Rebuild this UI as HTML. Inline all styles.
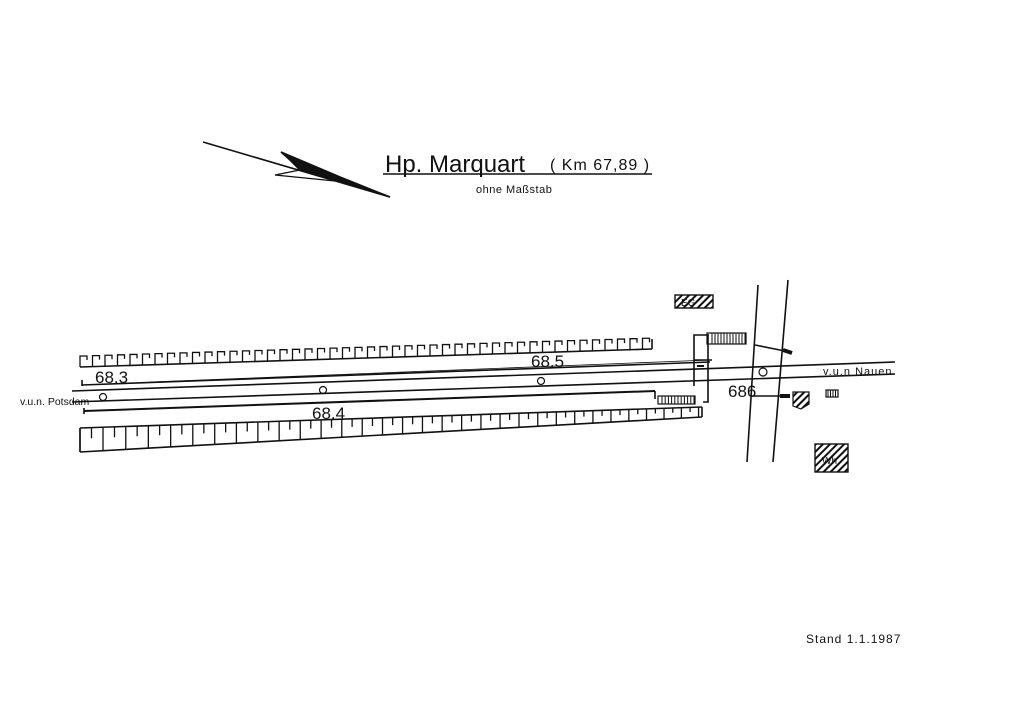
<!DOCTYPE html>
<html><head><meta charset="utf-8"><style>
html,body{margin:0;padding:0;background:#fff;}
svg{display:block}
text{font-family:"Liberation Sans",sans-serif;fill:#111}
</style></head><body>
<svg id="s" width="1024" height="724" viewBox="0 0 1024 724" xmlns="http://www.w3.org/2000/svg">
<defs>
<pattern id="h" width="5" height="5" patternUnits="userSpaceOnUse" patternTransform="rotate(45)">
<rect width="5" height="5" fill="#fff"/><rect width="2" height="5" fill="#111"/></pattern>
</defs>
<g stroke="#111" fill="none" stroke-width="1.6">
<line x1="203" y1="142" x2="390" y2="197"/>
<polygon points="281,152 340,177 390,197 300,170 290,160" fill="#111"/>
<polyline points="300,170 275,175 345,182" stroke-width="1.2"/>
<line x1="383" y1="174" x2="652" y2="174"/>

<line x1="80" y1="367" x2="652" y2="349"/>
<line x1="652" y1="339" x2="652" y2="349"/>
<line x1="82" y1="385" x2="710" y2="362"/>
<line x1="82" y1="380" x2="82" y2="386"/>
<line x1="150" y1="382" x2="710" y2="360" stroke-width="0.8"/>
<line x1="72" y1="391" x2="895" y2="362"/>
<line x1="72" y1="402" x2="895" y2="374"/>
<line x1="84" y1="411" x2="655" y2="391" stroke-width="2"/>
<line x1="84" y1="408" x2="84" y2="414"/>
<line x1="655" y1="391" x2="655" y2="399"/>
<line x1="80" y1="428" x2="702" y2="407"/>
<line x1="80" y1="452" x2="702" y2="417"/>
<line x1="702" y1="407" x2="702" y2="417"/>
<line x1="80" y1="428" x2="80" y2="452"/>

<polyline points="694,386 694,335 707,335"/>
<polyline points="708,334 708,402 703,402"/>
<line x1="694" y1="360" x2="712" y2="360"/>
<line x1="697" y1="366" x2="704" y2="366" stroke-width="2"/>
<rect x="707" y="333" width="39" height="11" stroke-width="1.2"/>
<rect x="658" y="396" width="37" height="8" stroke-width="1.2"/>

<line x1="758" y1="285" x2="747" y2="462"/>
<line x1="788" y1="280" x2="773" y2="462"/>
<line x1="755" y1="345" x2="785" y2="351"/>
<line x1="783" y1="350" x2="792" y2="353" stroke-width="4"/>
<line x1="752" y1="396" x2="780" y2="396"/>
<line x1="780" y1="396" x2="790" y2="396" stroke-width="4"/>
<circle cx="763" cy="372" r="4" stroke-width="1.2"/>

<circle cx="103" cy="397" r="3.5" stroke-width="1.2"/>
<circle cx="323" cy="390" r="3.5" stroke-width="1.2"/>
<circle cx="541" cy="381" r="3.5" stroke-width="1.2"/>

<rect x="675" y="295" width="38" height="13" fill="url(#h)" stroke-width="1.4"/>
<polygon points="793,392 809,392 809,404 801,409 793,406" fill="url(#h)" stroke-width="1.2"/>
<rect x="826" y="390" width="12" height="7" stroke-width="1.2"/>
<rect x="815" y="444" width="33" height="28" fill="url(#h)" stroke-width="1.4"/>
<g id="ticks" stroke-width="1.3"></g>
</g>
<text x="385" y="172" font-size="24">Hp. Marquart</text>
<text x="550" y="170" font-size="16" letter-spacing="1">( Km 67,89 )</text>
<text x="476" y="193" font-size="11" letter-spacing="0.5">ohne Maßstab</text>
<text x="95" y="383" font-size="17">68.3</text>
<text x="531" y="367" font-size="17">68.5</text>
<text x="312" y="419" font-size="17">68.4</text>
<text x="728" y="397" font-size="17">686</text>
<text x="20" y="405" font-size="10.5">v.u.n. Potsdam</text>
<text x="823" y="375" font-size="11" letter-spacing="1">v.u.n  Nauen</text>
<text x="681" y="306" font-size="10">EG</text>
<text x="822" y="464" font-size="10">Wh</text>
<text x="806" y="643" font-size="12" letter-spacing="1">Stand  1.1.1987</text>
</svg>
<script>
var g=document.getElementById('ticks'),ns='http://www.w3.org/2000/svg',d='';
for(var x=80;x<=652;x+=12.5){var ub=367-(x-80)*0.0315;d+='M'+x+' '+ub+'V'+(ub-11)+'h'+7+'v'+(4);}
function ft(x){return 428-(x-80)*0.0338;} function fb(x){return 452-(x-80)*0.0563;}
var x2=80,sp=23;
while(x2<700){d+='M'+x2+' '+ft(x2)+'V'+fb(x2);var m=x2+sp/2;if(m<700)d+='M'+m+' '+ft(m)+'v'+((fb(m)-ft(m))*0.45);sp=23-(x2-80)/620*6;x2+=sp;}
var p=document.createElementNS(ns,'path');p.setAttribute('d',d);g.appendChild(p);
var d2='';for(var x3=712;x3<746;x3+=3)d2+='M'+x3+' 333v11';for(var x4=662;x4<695;x4+=3.2)d2+='M'+x4+' 396v8';for(var x5=828;x5<838;x5+=2.5)d2+='M'+x5+' 390v7';
var p2=document.createElementNS(ns,'path');p2.setAttribute('d',d2);p2.setAttribute('stroke-width','1');g.appendChild(p2);
</script>
</body></html>
